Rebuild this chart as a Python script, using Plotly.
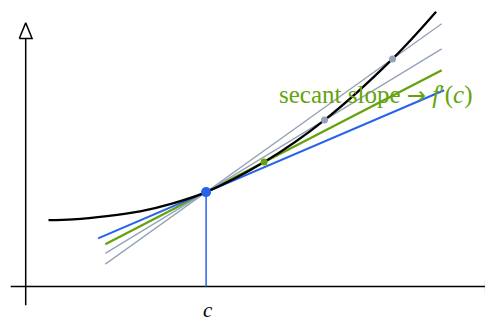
import plotly.graph_objects as go

# ---- data (math units; 1 unit = 40 px) ----
curve_x = [0.57, 1.18, 2.03, 2.86, 3.68, 4.51, 5.96, 7.47, 9.17, 10.26]
curve_y = [1.66, 1.68, 1.76, 1.88, 2.08, 2.36, 3.11, 4.16, 5.69, 6.87]

c_x = 4.51
c_y = 2.36
tangent_slope = 0.428
tangent_span = [1.81, 10.46]

secant_pt_x = [5.96, 7.47, 9.17]
secant_pt_y = [3.11, 4.16, 5.69]
secant_span = [1.99, 10.40]

axis_x_span = [-0.375, 11.5]
axis_y_span = [-0.47, 6.2]
arrow_len = 0.39
arrow_half = 0.16

label_text = ("secant slope&nbsp;<span style=\"font-family:'DejaVu Sans';font-size:23px\">→</span>&nbsp;"
              "<i>f</i>′(<i>c</i>)")
tick_label = "<i>c</i>"

BLUE = "#2563eb"
GREEN = "#65a30d"
GRAY = "#94a3b8"

fig = go.Figure()

# axes
fig.add_trace(go.Scatter(x=axis_x_span, y=[0, 0], mode="lines",
                         line=dict(color="black", width=1.5), hoverinfo="skip"))
fig.add_trace(go.Scatter(x=[0, 0], y=axis_y_span, mode="lines",
                         line=dict(color="black", width=1.5), hoverinfo="skip"))
xe = axis_x_span[1]
fig.add_trace(go.Scatter(x=[xe, xe + arrow_len, xe, xe], y=[arrow_half, 0, -arrow_half, arrow_half],
                         mode="lines", fill="toself", fillcolor="white",
                         line=dict(color="black", width=1.5), hoverinfo="skip"))
ye = axis_y_span[1]
fig.add_trace(go.Scatter(x=[-arrow_half, 0, arrow_half, -arrow_half], y=[ye, ye + arrow_len, ye, ye],
                         mode="lines", fill="toself", fillcolor="white",
                         line=dict(color="black", width=1.5), hoverinfo="skip"))

# secant lines
colors = [GREEN, GRAY, GRAY]
widths = [2.4, 1.3, 1.3]
for px, py, col, w in zip(secant_pt_x, secant_pt_y, colors, widths):
    s = (py - c_y) / (px - c_x)
    xs = secant_span
    ys = [c_y + s * (x - c_x) for x in xs]
    fig.add_trace(go.Scatter(x=xs, y=ys, mode="lines", line=dict(color=col, width=w),
                             hoverinfo="skip"))

# tangent
fig.add_trace(go.Scatter(x=tangent_span, y=[c_y + tangent_slope * (x - c_x) for x in tangent_span],
                         mode="lines", line=dict(color=BLUE, width=2), hoverinfo="skip"))

# curve
fig.add_trace(go.Scatter(x=curve_x, y=curve_y, mode="lines",
                         line=dict(color="black", width=2.3, shape="spline"), hoverinfo="skip"))

# vertical drop
fig.add_trace(go.Scatter(x=[c_x, c_x], y=[0, c_y], mode="lines",
                         line=dict(color=BLUE, width=1.5), hoverinfo="skip"))

# secant points
fig.add_trace(go.Scatter(x=secant_pt_x, y=secant_pt_y, mode="markers",
                         marker=dict(color=colors, size=7), hoverinfo="skip"))
# point c
fig.add_trace(go.Scatter(x=[c_x], y=[c_y], mode="markers",
                         marker=dict(color=BLUE, size=10), hoverinfo="skip"))

fig.add_annotation(x=8.74, y=4.79, text=label_text, showarrow=False,
                   font=dict(family="Liberation Serif", size=25, color=GREEN),
                   xanchor="center", yanchor="middle")
fig.add_annotation(x=c_x + 0.04, y=-0.58, text=tick_label, showarrow=False,
                   font=dict(family="Liberation Serif", size=21, color="black"),
                   xanchor="center", yanchor="middle")

# page body has an 8px margin: figure covers screen pixels 8..493 x 8..320
fig.update_layout(
    width=485, height=312, margin=dict(l=0, r=0, t=0, b=0),
    paper_bgcolor="white", plot_bgcolor="white", showlegend=False,
    xaxis=dict(range=[-0.4425, 11.6825], visible=False, fixedrange=True),
    yaxis=dict(range=[-0.8375, 6.9625], visible=False, fixedrange=True),
)

fig.write_html("out.html")
